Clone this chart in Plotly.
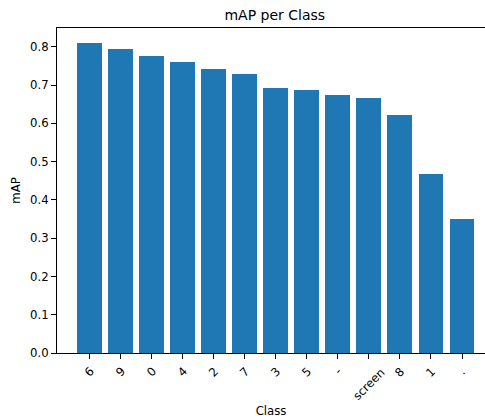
import plotly.graph_objects as go

classes = ["6", "9", "0", "4", "2", "7", "3", "5", "-", "screen", "8", "1", "."]
map_values = [0.809, 0.794, 0.777, 0.760, 0.741, 0.729, 0.692, 0.688, 0.675, 0.665, 0.621, 0.467, 0.350]
y_ticks = [0.0, 0.1, 0.2, 0.3, 0.4, 0.5, 0.6, 0.7, 0.8]

W, H = 485, 419
L, T, B, R = 57, 28, 66, 0
FONT = "DejaVu Sans"

fig = go.Figure()
fig.add_trace(go.Bar(x=classes, y=map_values, width=0.8,
                     marker=dict(color="#1f77b4", line=dict(width=0))))

annotations = []
for i, c in enumerate(classes):
    annotations.append(dict(x=i, y=0, xref="x", yref="paper", text=c, showarrow=False,
                            textangle=-45, xanchor="center", yanchor="top", yshift=-9,
                            font=dict(family=FONT, size=11.7, color="black")))

fig.update_layout(
    width=W, height=H,
    margin=dict(l=L, r=R, t=T, b=B, autoexpand=False),
    plot_bgcolor="white", paper_bgcolor="white",
    showlegend=False,
    font=dict(family=FONT, size=11.7, color="black"),
    title=dict(text="mAP per Class", x=274.8 / W, xref="container", xanchor="center",
               y=1 - 15.5 / H, yref="container", yanchor="middle",
               font=dict(family=FONT, size=14, color="black")),
    annotations=annotations,
    bargap=0,
)
fig.update_xaxes(type="category", categoryorder="array", categoryarray=classes,
                 range=[-1.04, 12.74], showline=True, linecolor="black", linewidth=1,
                 mirror=True, ticks="outside", ticklen=5, tickcolor="black",
                 showticklabels=False, showgrid=False, zeroline=False, automargin=False,
                 title=dict(text="Class", standoff=48, font=dict(family=FONT, size=11.7)))
fig.update_yaxes(range=[0, 0.849], showline=True, linecolor="black", linewidth=1,
                 mirror=False, ticks="outside", ticklen=5, tickcolor="black",
                 tickvals=y_ticks, tickformat=".1f", showgrid=False, zeroline=False,
                 automargin=False,
                 title=dict(text="mAP", standoff=6, font=dict(family=FONT, size=11.7)))

fig.write_html("out.html", config={"displayModeBar": False},
               post_script="document.body.style.margin='0';")
